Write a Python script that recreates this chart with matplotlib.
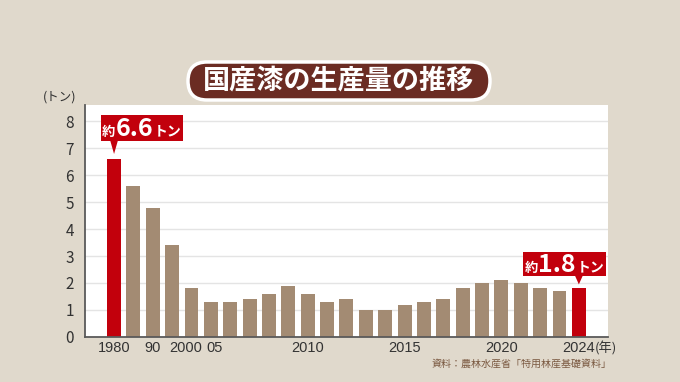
import matplotlib.pyplot as plt
import matplotlib.transforms as mtrans
import numpy as np
from matplotlib.patches import FancyBboxPatch, Polygon, Rectangle

plt.rcParams["font.family"] = ["Noto Sans CJK JP", "DejaVu Sans"]

years = [1980, 1985, 1990, 1995, 2000] + list(range(2005, 2025))
values = [6.6, 5.6, 4.8, 3.4, 1.8,
          1.3, 1.3, 1.4, 1.6, 1.9, 1.6, 1.3, 1.4, 1.0, 1.0,
          1.2, 1.3, 1.4, 1.8, 2.0, 2.1, 2.0, 1.8, 1.7, 1.8]
highlight = [1980, 2024]
tick_years = [1980, 1990, 2000, 2005, 2010, 2015, 2020, 2024]
tick_labels = ["1980", "90", "2000", "05", "2010", "2015", "2020", "2024"]
title = "国産漆の生産量の推移"
source = "資料：農林水産省「特用林産基礎資料」"

BG = "#e0d9cc"
BROWN = "#a38b73"
RED = "#c2000c"

fig = plt.figure(figsize=(6.8, 3.82), dpi=100, facecolor=BG)
ax = fig.add_axes([0.125, 0.118, 0.769, 0.607])
ax.set_facecolor("white")

x = np.arange(len(years))
colors = [RED if y in highlight else BROWN for y in years]
ax.bar(x, values, width=0.72, color=colors, zorder=3)

ax.set_xlim(-1.5, len(years) + 0.5)
ax.set_ylim(0, 8.6)
ax.set_yticks(range(0, 9))
ax.yaxis.grid(True, color="#e4e4e4", lw=1.0, zorder=0)
ax.tick_params(axis="both", length=0, colors="#333333")
ax.tick_params(axis="y", labelsize=11, pad=8)
for s in ["top", "right"]:
    ax.spines[s].set_visible(False)
for s in ["left", "bottom"]:
    ax.spines[s].set_color("#5a5a5a")
    ax.spines[s].set_linewidth(1.3)
    ax.spines[s].set_zorder(4)

ax.set_xticks([years.index(y) for y in tick_years])
ax.set_xticklabels(tick_labels, fontsize=10.5, family=["Liberation Sans", "DejaVu Sans"])
ax.tick_params(axis="x", pad=3)
for lab, dx in zip(ax.get_xticklabels(), [0, 0, -6, 4, 0, 0, 0, 0]):
    lab.set_transform(lab.get_transform() + mtrans.ScaledTranslation(dx / 100, 0, fig.dpi_scale_trans))

fig.text(0.088, 0.745, "(トン)", fontsize=9, color="#333333", ha="center", va="center")
ax.text(len(years) - 1 + 0.82, -0.17, "(年)", fontsize=9.5, color="#333333",
        ha="left", va="top", transform=ax.transData)
fig.text(0.9, 0.048, source, fontsize=7.2, color="#7a5840", ha="right", va="center")

# title pill
fig.patches.append(FancyBboxPatch((188, 382 - 100), 302, 38, transform=None,
                                  boxstyle="round,pad=0,rounding_size=19",
                                  fc="#6b2c23", ec="white", lw=2.5, zorder=5, figure=fig))
fig.text(339 / 680, 1 - 81 / 382, title, fontsize=19.5, fontweight="bold", color="white",
         ha="center", va="center", zorder=6)

renderer = fig.canvas.get_renderer()


def callout(idx, val, left, width, height, gap, stem, big):
    px, py = ax.transData.transform((idx, val))
    tip = py + gap
    base = tip + stem
    box_l = px + left
    fig.patches.append(Rectangle((box_l, base), width, height, transform=None,
                                 fc=RED, ec="none", zorder=10, figure=fig))
    fig.patches.append(Polygon([(px - 4, base + 1), (px + 4, base + 1), (px, tip)],
                               closed=True, transform=None, fc=RED, ec="none",
                               zorder=10, figure=fig))
    parts = [("約", 9.5, "bold"), (big, 18, "bold"), ("トン", 10, "bold")]
    texts = []
    for s, fs, fw in parts:
        texts.append(fig.text(0, 0, s, fontsize=fs, fontweight=fw, color="white",
                              ha="left", va="baseline", transform=None, zorder=11,
                              family=["Noto Sans CJK JP", "DejaVu Sans"]))
    widths = [t.get_window_extent(renderer).width for t in texts]
    total = sum(widths) + 1
    cur = box_l + (width - total) / 2
    yb = base + height * 0.2
    for t, w in zip(texts, widths):
        t.set_position((cur, yb))
        cur += w + 0.5


callout(years.index(1980), values[years.index(1980)], -13, 82, 26, 5, 13, "6.6")
callout(years.index(2024), values[years.index(2024)], -56, 83, 24, 4, 8, "1.8")

fig.savefig("out.png", dpi=100, facecolor=BG)
